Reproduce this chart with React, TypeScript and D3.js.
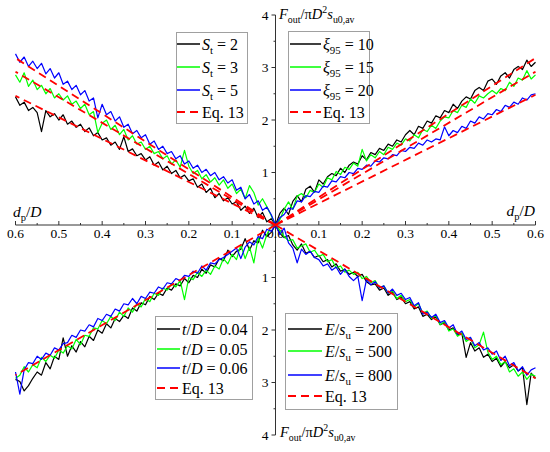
import * as d3 from 'd3';
import React, { useEffect, useRef } from 'react';

const W = 550;
const H = 452;

// sample positions d_p/D (0 .. 0.6)
const dp = d3.range(0, 61).map((i) => i / 100);

// top-left quadrant: S_t
const st2 = [0, 0.12, 0.06, 0.24, 0.14, 0.32, 0.22, 0.36, 0.28, 0.44,
  0.4, 0.52, 0.46, 0.6, 0.52, 0.7, 0.62, 0.78, 0.72, 0.88,
  0.84, 0.95, 0.9, 1.04, 0.98, 1.12, 1.05, 1.2, 1.14, 1.3,
  1.24, 1.36, 1.32, 1.45, 1.4, 1.68, 1.44, 1.58, 1.52, 1.66,
  1.62, 1.76, 1.7, 1.85, 1.78, 1.92, 1.86, 1.98, 1.92, 2.1,
  2.0, 2.12, 2.06, 2.18, 1.78, 2.14, 2.24, 2.18, 2.34, 2.28,
  2.44];
const st3 = [0, 0.18, 0.35, 0.5, 0.38, 0.62, 0.75, 0.5, 0.68, 0.6,
  0.78, 0.7, 0.86, 0.76, 0.9, 0.82, 0.96, 0.88, 1.04, 0.98,
  1.12, 1.42, 1.1, 1.24, 1.16, 1.32, 1.26, 1.4, 1.36, 1.5,
  1.44, 1.58, 1.54, 1.7, 1.62, 1.82, 1.72, 1.9, 1.82, 2.0,
  1.94, 1.76, 2.16, 2.1, 2.3, 2.22, 2.36, 2.3, 2.46, 2.38,
  2.5, 2.42, 2.6, 2.5, 2.66, 2.58, 2.76, 2.64, 2.9, 2.72,
  2.86];
const st5 = [0, 0.2, 0.34, 0.28, 0.46, 0.4, 0.58, 0.5, 0.72, 0.66,
  0.86, 0.8, 0.92, 0.86, 1.0, 0.94, 1.06, 1.0, 1.14, 1.08,
  1.22, 1.16, 1.32, 1.26, 1.4, 1.36, 1.5, 1.44, 1.6, 1.54,
  1.72, 1.66, 1.8, 1.74, 1.92, 1.86, 2.06, 1.98, 2.16, 2.1,
  2.3, 2.04, 2.42, 2.36, 2.56, 2.48, 2.66, 2.58, 2.74, 2.68,
  2.9, 2.8, 2.98, 2.88, 3.08, 2.98, 3.12, 3.02, 3.2, 3.1,
  3.26];

// top-right quadrant: xi_95
const xi10 = [0, 0.22, 0.32, 0.2, 0.45, 0.56, 0.44, 0.68, 0.74, 0.62,
  0.86, 0.78, 0.92, 0.98, 0.94, 1.08, 1.0, 1.14, 1.2, 1.16,
  1.32, 1.24, 1.38, 1.34, 1.46, 1.42, 1.54, 1.5, 1.62, 1.58,
  1.72, 1.8, 1.72, 1.88, 1.84, 1.98, 1.94, 2.08, 2.04, 2.18,
  2.14, 2.3, 2.22, 2.36, 2.44, 2.4, 2.56, 2.62, 2.56, 2.74,
  2.78, 2.68, 2.84, 2.9, 2.8, 2.96, 3.02, 2.96, 3.14, 3.02,
  3.1];
const xi15 = [0, 0.1, 0.3, 0.44, 0.3, 0.55, 0.6, 0.52, 0.66, 0.62,
  0.78, 0.72, 0.9, 0.86, 1.02, 0.96, 1.1, 1.06, 1.18, 1.12,
  1.44, 1.22, 1.34, 1.28, 1.4, 1.34, 1.48, 1.44, 1.56, 1.52,
  1.64, 1.6, 1.72, 1.66, 1.82, 1.78, 1.9, 1.84, 1.98, 2.06,
  2.04, 2.18, 2.14, 2.28, 2.24, 2.4, 2.32, 2.46, 2.42, 2.5,
  2.56, 2.5, 2.6, 2.56, 2.72, 2.64, 2.8, 2.76, 2.94, 2.78,
  2.86];
const xi20 = [0, 0.14, 0.2, 0.32, 0.3, 0.46, 0.44, 0.56, 0.54, 0.64,
  0.62, 0.74, 0.72, 0.84, 0.82, 0.92, 0.9, 1.0, 0.98, 1.08,
  1.06, 1.14, 1.12, 1.22, 1.2, 1.28, 1.26, 1.34, 1.32, 1.42,
  1.4, 1.48, 1.46, 1.56, 1.52, 1.62, 1.58, 1.64, 1.62, 1.87,
  1.7, 1.8, 1.76, 1.88, 1.84, 1.98, 1.94, 2.06, 2.02, 2.12,
  2.1, 2.2, 2.16, 2.28, 2.24, 2.34, 2.3, 2.42, 2.38, 2.48,
  2.5];

// bottom-left quadrant: t/D
const td04 = [0, 0.14, 0.22, 0.1, 0.34, 0.3, 0.48, 0.26, 0.46, 0.5,
  0.6, 0.48, 0.68, 0.64, 0.8, 0.76, 0.92, 0.84, 1.0, 0.96,
  1.1, 1.02, 1.16, 1.12, 1.24, 1.2, 1.34, 1.3, 1.42, 1.36,
  1.52, 1.48, 1.64, 1.58, 1.78, 1.72, 1.84, 1.78, 1.96, 1.88,
  2.06, 2.0, 2.2, 2.12, 2.32, 2.22, 2.42, 2.3, 2.5, 2.15,
  2.56, 2.5, 2.74, 2.62, 2.86, 2.8, 2.92, 3.06, 3.16, 2.98,
  2.94];
const td05 = [0, 0.04, 0.18, 0.44, 0.24, 0.72, 0.42, 0.64, 0.38, 0.66,
  0.56, 0.74, 0.64, 0.84, 0.78, 0.94, 0.86, 0.98, 0.9, 1.04,
  1.0, 1.42, 1.06, 1.18, 1.12, 1.24, 1.2, 1.34, 1.3, 1.46,
  1.4, 1.56, 1.5, 1.66, 1.58, 1.74, 1.66, 1.82, 1.74, 1.88,
  1.82, 1.98, 1.96, 2.12, 2.1, 2.28, 2.18, 2.36, 2.3, 2.44,
  2.38, 2.54, 2.48, 2.6, 2.52, 2.72, 2.66, 2.8, 2.7, 2.86,
  2.92];
const td06 = [0, 0.12, 0.08, 0.26, 0.22, 0.38, 0.32, 0.42, 0.64, 0.44,
  0.5, 0.56, 0.62, 0.66, 0.74, 0.72, 0.86, 0.78, 0.92, 0.88,
  0.98, 0.96, 1.06, 1.02, 1.12, 1.1, 1.22, 1.18, 1.3, 1.28,
  1.4, 1.36, 1.5, 1.4, 1.52, 1.5, 1.64, 1.6, 1.74, 1.7,
  1.82, 1.78, 1.94, 1.9, 2.02, 2.0, 2.14, 2.1, 2.24, 2.26,
  2.38, 2.34, 2.48, 2.44, 2.56, 2.5, 2.64, 2.62, 2.76, 3.22,
  2.8];

// bottom-right quadrant: E/s_u
const es200 = [0, 0.16, 0.24, 0.2, 0.38, 0.48, 0.36, 0.54, 0.5, 0.62,
  0.58, 0.7, 0.66, 0.8, 0.74, 0.88, 0.84, 0.94, 0.9, 0.98,
  0.94, 1.08, 1.14, 1.12, 1.24, 1.2, 1.34, 1.28, 1.42, 1.38,
  1.5, 1.46, 1.6, 1.56, 1.74, 1.7, 1.8, 1.74, 1.9, 1.86,
  2.0, 1.96, 2.1, 2.06, 2.52, 2.24, 2.4, 2.34, 2.52, 2.46,
  2.6, 2.54, 2.7, 2.6, 2.72, 2.66, 2.78, 2.72, 3.42, 2.82,
  2.92];
const es500 = [0, 0.1, 0.22, 0.3, 0.28, 0.44, 0.4, 0.36, 0.52, 0.48,
  0.6, 0.56, 0.7, 0.66, 0.82, 0.78, 0.9, 0.86, 0.94, 0.9,
  1.02, 0.98, 1.1, 1.06, 1.2, 1.16, 1.3, 1.26, 1.4, 1.34,
  1.46, 1.42, 1.56, 1.5, 1.68, 1.64, 1.78, 1.72, 1.9, 1.84,
  2.02, 1.98, 2.12, 2.06, 2.22, 2.16, 2.34, 2.28, 2.04, 2.42,
  2.56, 2.5, 2.66, 2.6, 2.8, 2.74, 2.88, 2.8, 2.94, 2.84,
  2.88];
const es800 = [0, 0.18, 0.06, 0.34, 0.44, 0.72, 0.46, 0.56, 0.5, 0.62,
  0.66, 0.78, 0.74, 0.86, 0.8, 0.94, 0.84, 0.98, 1.06, 0.98,
  1.44, 1.04, 1.14, 1.08, 1.2, 1.16, 1.3, 1.22, 1.34, 1.3,
  1.42, 1.38, 1.54, 1.48, 1.7, 1.66, 1.76, 1.7, 1.86, 1.82,
  1.96, 1.9, 2.08, 2.02, 2.18, 2.14, 2.3, 2.24, 2.38, 2.34,
  2.46, 2.4, 2.58, 2.5, 2.68, 2.62, 2.78, 2.7, 2.86, 2.76,
  2.72];

// Eq. 13 lines, value at d_p/D = 0 and 0.6
const eqDp = [0, 0.6];
const eqSt = [[0, 2.46], [0, 2.92], [0, 3.18]];
const eqXi = [[0, 3.18], [0, 2.92], [0, 2.48]];
const eqTd = [[0, 2.86]];
const eqEs = [[0, 2.92]];

const colors = ['#000000', '#00ff00', '#0000ff'];
const red = '#ff0000';

type Part = [string, string?];

const stLabels: Part[][] = [
  [['S', 'i'], ['t', 'sub'], [' = 2']],
  [['S', 'i'], ['t', 'sub'], [' = 3']],
  [['S', 'i'], ['t', 'sub'], [' = 5']],
];
const xiLabels: Part[][] = [
  [['ξ', 'i'], ['95', 'sub'], [' = 10']],
  [['ξ', 'i'], ['95', 'sub'], [' = 15']],
  [['ξ', 'i'], ['95', 'sub'], [' = 20']],
];
const tdLabels: Part[][] = [
  [['t', 'i'], ['/'], ['D', 'i'], [' = 0.04']],
  [['t', 'i'], ['/'], ['D', 'i'], [' = 0.05']],
  [['t', 'i'], ['/'], ['D', 'i'], [' = 0.06']],
];
const esLabels: Part[][] = [
  [['E', 'i'], ['/'], ['s', 'i'], ['u', 'sub'], [' = 200']],
  [['E', 'i'], ['/'], ['s', 'i'], ['u', 'sub'], [' = 500']],
  [['E', 'i'], ['/'], ['s', 'i'], ['u', 'sub'], [' = 800']],
];
const eqLabel: Part[] = [['Eq. 13']];
const xTitle: Part[] = [['d', 'i'], ['p', 'sub'], ['/'], ['D', 'i']];
const yTitle: Part[] = [['F', 'i'], ['out', 'sub'], ['/π'], ['D', 'i'], ['2', 'sup'], ['s', 'i'], ['u0,av', 'sub']];

const FONT = "'Liberation Serif', 'Times New Roman', Times, 'DejaVu Serif', serif";

function richText(g: any, x: number, y: number, parts: Part[], size: number, anchor = 'start') {
  const t = g
    .append('text')
    .attr('x', x)
    .attr('y', y)
    .attr('font-size', size)
    .attr('text-anchor', anchor)
    .style('white-space', 'pre')
    .attr('fill', '#000');
  let shift = 0;
  parts.forEach(([s, k]) => {
    const sp = t.append('tspan').text(s);
    let target = 0;
    if (k === 'i') sp.attr('font-style', 'italic');
    if (k === 'sub') {
      target = size * 0.28;
      sp.attr('font-size', size * 0.68);
    }
    if (k === 'sup') {
      target = -size * 0.38;
      sp.attr('font-size', size * 0.68);
    }
    if (target !== shift) sp.attr('dy', target - shift);
    shift = target;
  });
}

export default function App() {
  const ref = useRef<SVGSVGElement>(null);

  useEffect(() => {
    drawChart();
  }, []);

  function drawChart() {
    const svg = d3.select(ref.current);
    svg.selectAll('*').remove();

    const x = d3.scaleLinear().domain([-0.6, 0.6]).range([15.5, 535.5]);
    const y = d3.scaleLinear().domain([-4, 4]).range([435, 15]);
    const axisColor = '#333';

    // axes
    const ax = svg.append('g');
    ax.append('line')
      .attr('x1', x(-0.6)).attr('x2', x(0.6))
      .attr('y1', y(0)).attr('y2', y(0))
      .attr('stroke', axisColor).attr('stroke-width', 1);
    ax.append('line')
      .attr('x1', x(0)).attr('x2', x(0))
      .attr('y1', y(4)).attr('y2', y(-4))
      .attr('stroke', axisColor).attr('stroke-width', 1);

    d3.range(-12, 13).forEach((i) => {
      const v = i * 0.05;
      const major = i % 2 === 0;
      ax.append('line')
        .attr('x1', x(v)).attr('x2', x(v))
        .attr('y1', y(0)).attr('y2', y(0) - (major ? 4 : 2))
        .attr('stroke', axisColor).attr('stroke-width', 1);
      if (major) {
        ax.append('text')
          .attr('x', x(v)).attr('y', y(0) + 13)
          .attr('text-anchor', 'middle')
          .attr('font-size', 13.5)
          .text(Math.abs(v).toFixed(1));
      }
    });
    d3.range(-8, 9).forEach((i) => {
      const v = i * 0.5;
      const major = i % 2 === 0;
      ax.append('line')
        .attr('x1', x(0)).attr('x2', x(0) - (major ? 4 : 2))
        .attr('y1', y(v)).attr('y2', y(v))
        .attr('stroke', axisColor).attr('stroke-width', 1);
      if (major && i !== 0) {
        ax.append('text')
          .attr('x', x(0) - 7).attr('y', y(v) + 4.5)
          .attr('text-anchor', 'end')
          .attr('font-size', 13.5)
          .text(Math.abs(v).toFixed(0));
      }
    });

    richText(ax, 13, 217, xTitle, 15.5);
    richText(ax, 535, 216, xTitle, 15.5, 'end');
    richText(ax, 279, 19, yTitle, 14.5);
    richText(ax, 280, 437, yTitle, 14.5);

    // data
    const quadrants = [
      { sx: -1, sy: 1, series: [st2, st3, st5], eq: eqSt },
      { sx: 1, sy: 1, series: [xi10, xi15, xi20], eq: eqXi },
      { sx: -1, sy: -1, series: [td04, td05, td06], eq: eqTd },
      { sx: 1, sy: -1, series: [es200, es500, es800], eq: eqEs },
    ];

    const plot = svg.append('g');
    quadrants.forEach((q) => {
      const line = d3
        .line<number>()
        .x((_, i) => x(q.sx * dp[i]))
        .y((v) => y(q.sy * v));
      q.series.forEach((s, k) => {
        plot.append('path')
          .datum(s)
          .attr('fill', 'none')
          .attr('stroke', colors[k])
          .attr('stroke-width', 1.2)
          .attr('stroke-linejoin', 'round')
          .attr('d', line);
      });
    });
    quadrants.forEach((q) => {
      const line = d3
        .line<number>()
        .x((_, i) => x(q.sx * eqDp[i]))
        .y((v) => y(q.sy * v));
      q.eq.forEach((e) => {
        plot.append('path')
          .datum(e)
          .attr('fill', 'none')
          .attr('stroke', red)
          .attr('stroke-width', 1.8)
          .attr('stroke-dasharray', '8,5')
          .attr('d', line);
      });
    });

    // legends
    const legends = [
      { box: [176, 32, 247, 123], rows: [50, 73, 96, 118], lx: [177, 200], tx: 202, labels: stLabels },
      { box: [288, 31, 369, 123], rows: [50, 73, 96, 118], lx: [290, 321], tx: 323, labels: xiLabels },
      { box: [155, 316, 252, 399], rows: [335, 355, 374, 394], lx: [157, 180], tx: 182, labels: tdLabels },
      { box: [285, 313, 397, 409], rows: [335, 357, 381, 402], lx: [288, 322], tx: 325, labels: esLabels },
    ];
    legends.forEach((lg) => {
      const g = svg.append('g');
      const [x0, y0, x1, y1] = lg.box;
      g.append('rect')
        .attr('x', x0 + 0.5).attr('y', y0 + 0.5)
        .attr('width', x1 - x0).attr('height', y1 - y0)
        .attr('fill', '#fff')
        .attr('stroke', '#a0a0a0').attr('stroke-width', 1);
      lg.rows.forEach((ry, k) => {
        const isEq = k === 3;
        g.append('line')
          .attr('x1', lg.lx[0]).attr('x2', lg.lx[1])
          .attr('y1', ry - 6).attr('y2', ry - 6)
          .attr('stroke', isEq ? red : colors[k])
          .attr('stroke-width', isEq ? 1.8 : 1.5)
          .attr('stroke-dasharray', isEq ? '8,5' : null);
        richText(g, lg.tx, ry, isEq ? eqLabel : lg.labels[k], 16);
      });
    });
  }

  return (
    <svg
      ref={ref}
      width={W}
      height={H}
      style={{ position: 'absolute', left: 0, top: 0, background: '#fff', fontFamily: FONT }}
    />
  );
}
